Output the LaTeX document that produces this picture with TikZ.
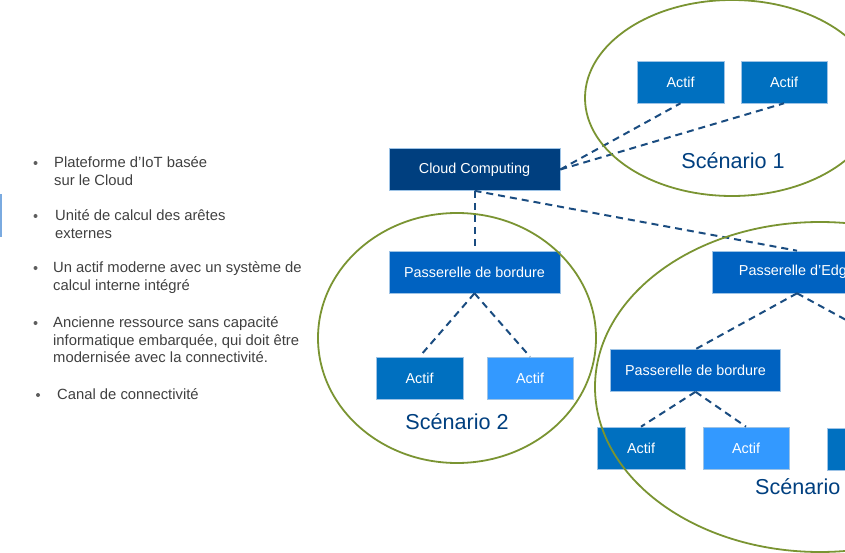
\documentclass[tikz,border=0pt]{standalone}
\usepackage{fontspec}
\setmainfont{Liberation Sans}
\usetikzlibrary{positioning}

\definecolor{navy}{HTML}{003F7F}
\definecolor{gateblue}{HTML}{0062C1}
\definecolor{assetblue}{HTML}{0070C0}
\definecolor{oldblue}{HTML}{3399FF}
\definecolor{boxline}{HTML}{9DC3E6}
\definecolor{linkblue}{HTML}{1A4C80}
\definecolor{zonegreen}{HTML}{7A9432}
\definecolor{legendgray}{HTML}{404040}
\definecolor{barblue}{HTML}{7AAAE0}

\begin{document}
\begin{tikzpicture}[
  x=1pt, y=-1pt,
  font=\fontsize{14.4}{17.5}\selectfont,
  box/.style={draw=boxline, line width=0.6pt, text=white, inner sep=0pt,
              minimum height=42pt},
  cloudbox/.style={box, fill=navy, minimum width=171pt},
  gate/.style={box, fill=gateblue, minimum width=170pt},
  asset/.style={box, fill=assetblue, minimum width=87pt},
  oldasset/.style={box, fill=oldblue, minimum width=86pt},
  link/.style={draw=linkblue, line width=2pt, dash pattern=on 7pt off 5pt},
  zone/.style={draw=zonegreen, line width=1.8pt},
  scen/.style={text=navy, font=\fontsize{21.6}{25}\selectfont, inner sep=0pt},
  legend/.style={text=legendgray, align=left, anchor=north west, inner sep=0pt,
                 font=\fontsize{14.8}{17.5}\selectfont},
  dot/.style={circle, fill=legendgray!85, inner sep=0pt, minimum size=4pt},
]

\useasboundingbox (0,0) rectangle (845,553);
\clip (0,0) rectangle (845,553);

\node[fill=barblue, inner sep=0pt, minimum width=2pt, minimum height=43pt,
      anchor=north west] (bar) at (0,194) {};

\node[dot] (b1) at (35.5,163) {};
\node[legend] (t1) at (54,156.5) {Plateforme d'IoT basée\\sur le Cloud};
\node[dot] (b2) at (35.5,216) {};
\node[legend] (t2) at (55,209.5) {Unité de calcul des arêtes\\externes};
\node[dot] (b3) at (35.5,268) {};
\node[legend] (t3) at (53,261.5)
     {Un actif moderne avec un système de\\calcul interne intégré};
\node[dot] (b4) at (35.5,323) {};
\node[legend] (t4) at (53,316.5)
     {Ancienne ressource sans capacité\\informatique embarquée, qui doit être\\modernisée avec la connectivité.};
\node[dot] (b5) at (38,395) {};
\node[legend] (t5) at (57,388.5) {Canal de connectivité};

\node[cloudbox] (cloud) at (474.5,169.5) {Cloud Computing};

\node[asset] (a11) at (680.5,82) {Actif};
\node[asset, minimum width=86pt] (a12) at (784,82) {Actif};

\node[gate, minimum width=171pt] (pb2) at (474.5,272) {Passerelle de bordure};
\node[asset] (a21) at (419.5,378) {Actif};
\node[oldasset] (a22) at (530,378) {Actif};

\node[gate] (pe) at (797,272) {Passerelle d'Edge};
\node[gate] (pb3) at (695.5,370.5) {Passerelle de bordure};
\node[asset, minimum width=88pt] (a31) at (641,448) {Actif};
\node[oldasset] (a32) at (746,448) {Actif};
\node[asset, minimum width=86pt] (a33) at (870,449) {Actif};
\coordinate (pnext) at (905,352);

\draw[link] (cloud.east) -- (a11.south);
\draw[link] (cloud.east) -- (a12.south);
\draw[link] (cloud.south) -- (pb2.north);
\draw[link] (cloud.south) -- (pe.north);
\draw[link] (pb2.south) -- (a21.north);
\draw[link] (pb2.south) -- (a22.north);
\draw[link] (pe.south) -- (pb3.north);
\draw[link] (pe.south) -- (pnext);
\draw[link] (pb3.south) -- (a31.north);
\draw[link] (pb3.south) -- (a32.north);

\draw[zone] (732,98) ellipse [x radius=147pt, y radius=98pt];
\draw[zone] (457,338) ellipse [x radius=139pt, y radius=125pt];
\draw[zone] (820,387) ellipse [x radius=225pt, y radius=165pt];

\node[scen] (s1) at (733,161) {Scénario 1};
\node[scen] (s2) at (457,422) {Scénario 2};
\node[scen, anchor=west] (s3) at (755,487) {Scénario 3};

\end{tikzpicture}
\end{document}
